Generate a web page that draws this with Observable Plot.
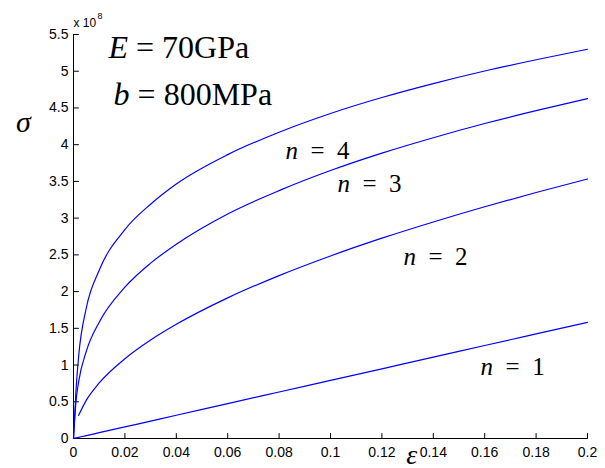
<!DOCTYPE html>
<html>
<head>
<meta charset="utf-8">
<script src="https://cdn.jsdelivr.net/npm/d3@7"></script>
<script src="https://cdn.jsdelivr.net/npm/@observablehq/plot@0.6"></script>
<style>
  html, body { margin: 0; padding: 0; background: #fff; }
  #chart { width: 605px; height: 468px; }
</style>
</head>
<body>
<div id="chart"></div>
<script>
// strain samples (epsilon)
const strain = [0, 0.001, 0.002, 0.005, 0.01, 0.02, 0.03, 0.04, 0.06, 0.08, 0.1, 0.12, 0.14, 0.16, 0.18, 0.2];
// stress values in units of 1e8 Pa
const stressN1 = [0, 0.008, 0.016, 0.040, 0.079, 0.158, 0.237, 0.316, 0.475, 0.633, 0.791, 0.949, 1.107, 1.266, 1.424, 1.582];
const stressN2 = [null, null, 0.315, 0.522, 0.756, 1.086, 1.341, 1.555, 1.915, 2.218, 2.485, 2.727, 2.948, 3.155, 3.349, 3.533];
const stressN3 = [0, 0.515, 0.772, 1.19, 1.583, 2.06, 2.387, 2.645, 3.057, 3.375, 3.648, 3.885, 4.095, 4.288, 4.463, 4.626];
const stressN4 = [0, 0.67, 1.12, 1.78, 2.29, 2.845, 3.19, 3.465, 3.865, 4.17, 4.425, 4.642, 4.832, 5.003, 5.156, 5.299];
const seriesNames = ["n = 1", "n = 2", "n = 3", "n = 4"];
const seriesValues = [stressN1, stressN2, stressN3, stressN4];
// tick values
const xTicks = [0, 0.02, 0.04, 0.06, 0.08, 0.1, 0.12, 0.14, 0.16, 0.18, 0.2];
const yTicks = [0, 0.5, 1, 1.5, 2, 2.5, 3, 3.5, 4, 4.5, 5, 5.5];

const rows = [];
seriesValues.forEach((vals, i) => {
  vals.forEach((v, j) => {
    if (v != null) rows.push({series: seriesNames[i], strain: strain[j], stress: v});
  });
});

const serif = "'Liberation Serif', 'Times New Roman', serif";
const sans = "'Liberation Sans', Arial, Helvetica, sans-serif";
const fmt = d3.format("~g");
// straight tick shape for inward-pointing tick marks
const tickShape = {draw(context, l) { context.moveTo(0, 0); context.lineTo(0, -l); }};

const plot = Plot.plot({
  width: 605,
  height: 468,
  marginLeft: 73,
  marginRight: 18,
  marginTop: 34,
  marginBottom: 30,
  style: {fontFamily: sans, fontSize: "14px", background: "#fff", color: "#000", overflow: "visible"},
  x: {domain: [0, 0.2], label: null},
  y: {domain: [0, 5.5], label: null},
  marks: [
    Plot.axisX(xTicks, {tickSize: 0, tickPadding: 9, fontSize: 14, tickFormat: fmt, label: null}),
    Plot.axisY(yTicks, {tickSize: 0, tickPadding: 5, fontSize: 14, tickFormat: fmt, label: null}),
    Plot.vector(xTicks, {x: d => d, y: 0, length: 5, rotate: 0, anchor: "start", shape: tickShape, stroke: "#000", strokeWidth: 1}),
    Plot.vector(yTicks, {x: 0, y: d => d, length: 5, rotate: 90, anchor: "start", shape: tickShape, stroke: "#000", strokeWidth: 1}),
    Plot.ruleY([0], {stroke: "#000", strokeWidth: 1}),
    Plot.ruleX([0], {stroke: "#000", strokeWidth: 1}),
    Plot.line(rows, {x: "strain", y: "stress", z: "series", stroke: "#0000ff", strokeWidth: 1.2, curve: "monotone-x"}),
    // axis titles
    Plot.text(["σ"], {text: d => d, frameAnchor: "left", y: 4.3, dx: -50, textAnchor: "middle", fontFamily: serif, fontStyle: "italic", fontSize: 30}),
    Plot.text(["ε"], {text: d => d, frameAnchor: "bottom", x: 0.1316, dy: 25, textAnchor: "middle", fontFamily: serif, fontStyle: "italic", fontSize: 28}),
    // exponent label
    Plot.text(["x 10"], {text: d => d, frameAnchor: "top-left", dx: 0, dy: -16, textAnchor: "start", fontSize: 12}),
    Plot.text(["8"], {text: d => d, frameAnchor: "top-left", dx: 24, dy: -22, textAnchor: "start", fontSize: 9}),
    // annotations
    Plot.text(["E = 70GPa"], {text: d => d, x: 0.0136, y: 5.32, textAnchor: "start", fontFamily: serif, fontSize: 32, className: "anno"}),
    Plot.text(["b = 800MPa"], {text: d => d, x: 0.0156, y: 4.68, textAnchor: "start", fontFamily: serif, fontSize: 32, className: "anno"}),
    Plot.text(["n = 4"], {text: d => d, x: 0.0825, y: 3.92, textAnchor: "start", fontFamily: serif, fontSize: 25, className: "anno wide"}),
    Plot.text(["n = 3"], {text: d => d, x: 0.1027, y: 3.46, textAnchor: "start", fontFamily: serif, fontSize: 25, className: "anno wide"}),
    Plot.text(["n = 2"], {text: d => d, x: 0.1284, y: 2.47, textAnchor: "start", fontFamily: serif, fontSize: 25, className: "anno wide"}),
    Plot.text(["n = 1"], {text: d => d, x: 0.1584, y: 0.97, textAnchor: "start", fontFamily: serif, fontSize: 25, className: "anno wide"})
  ]
});

// italicize the leading variable of each annotation
plot.querySelectorAll(".anno").forEach(g => {
  const wide = g.classList.contains("wide");
  g.querySelectorAll("text").forEach(t => {
    const s = t.textContent;
    const first = s.charAt(0);
    const rest = wide ? s.slice(1).replace(/ /g, "\u2002") : s.slice(1);
    t.textContent = "";
    const ns = "http://www.w3.org/2000/svg";
    const a = document.createElementNS(ns, "tspan");
    a.setAttribute("font-style", "italic");
    a.textContent = first;
    const b = document.createElementNS(ns, "tspan");
    b.textContent = rest;
    t.appendChild(a);
    t.appendChild(b);
  });
});

document.getElementById("chart").appendChild(plot);
</script>
</body>
</html>
